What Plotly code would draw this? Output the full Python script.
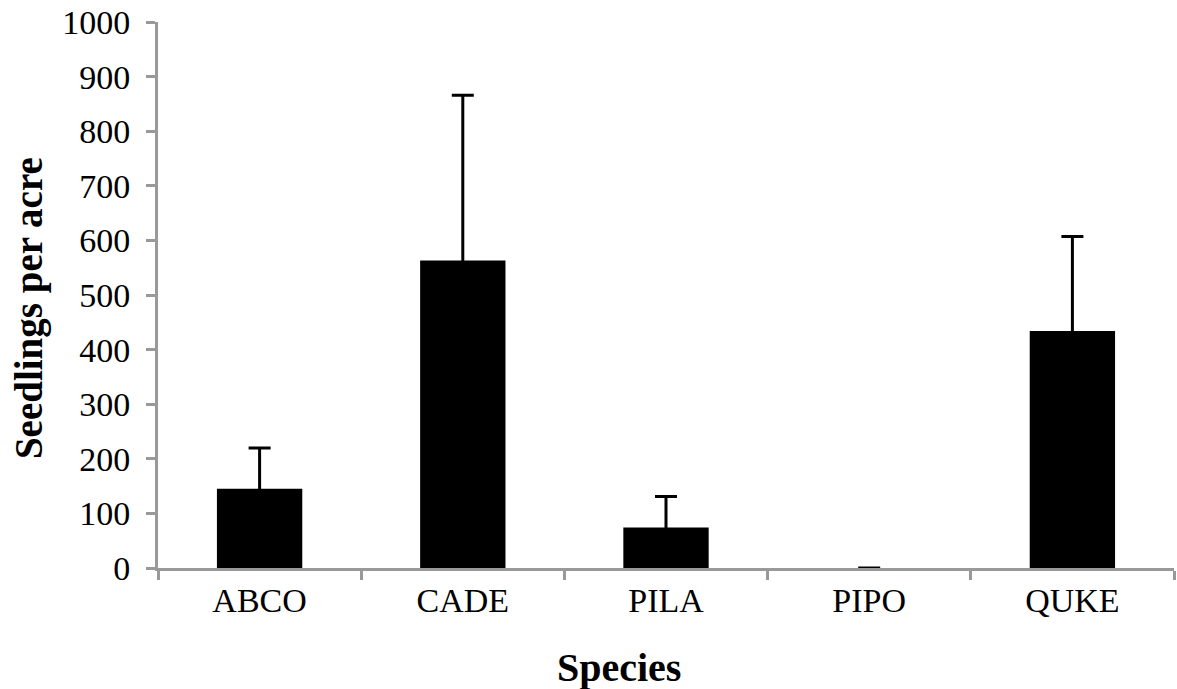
import plotly.graph_objects as go

species = ["ABCO", "CADE", "PILA", "PIPO", "QUKE"]
seedlings = [145, 563, 74, 0, 434]
error_plus = [75, 303, 57, 0, 173]

fig = go.Figure()
fig.add_trace(go.Bar(
    x=species,
    y=seedlings,
    width=0.42,
    marker=dict(color="black", line=dict(width=0)),
    error_y=dict(type="data", symmetric=True, array=error_plus,
                 color="black", thickness=3, width=11),
))

font_family = "Liberation Serif"
fig.update_layout(
    width=1177, height=689,
    margin=dict(l=158, r=3, t=22, b=121),
    plot_bgcolor="white", paper_bgcolor="white",
    showlegend=False,
    font=dict(family=font_family, size=34, color="black"),
    xaxis=dict(
        range=[-0.5, 4.5],
        showline=True, linecolor="#999999", linewidth=3,
        ticks="outside", tickson="boundaries", ticklen=9, tickwidth=3,
        tickcolor="#999999",
        tickfont=dict(family=font_family, size=34),
        showgrid=False, zeroline=False,
    ),
    yaxis=dict(
        range=[0, 1000], dtick=100,
        showline=True, linecolor="#999999", linewidth=3,
        ticks="outside", ticklen=9, tickwidth=3, tickcolor="#999999",
        ticklabelstandoff=9,
        tickfont=dict(family=font_family, size=34),
        showgrid=False, zeroline=False,
    ),
    annotations=[
        dict(text="<b>Species</b>", xref="paper", yref="paper",
             x=0.4537, y=-0.183, xanchor="center", yanchor="middle",
             showarrow=False, font=dict(family=font_family, size=40)),
        dict(text="<b>Seedlings per acre</b>", xref="paper", yref="paper",
             x=-0.127, y=0.476, xanchor="center", yanchor="middle",
             textangle=-90, showarrow=False,
             font=dict(family=font_family, size=39)),
    ],
)

fig.write_html("out.html")
